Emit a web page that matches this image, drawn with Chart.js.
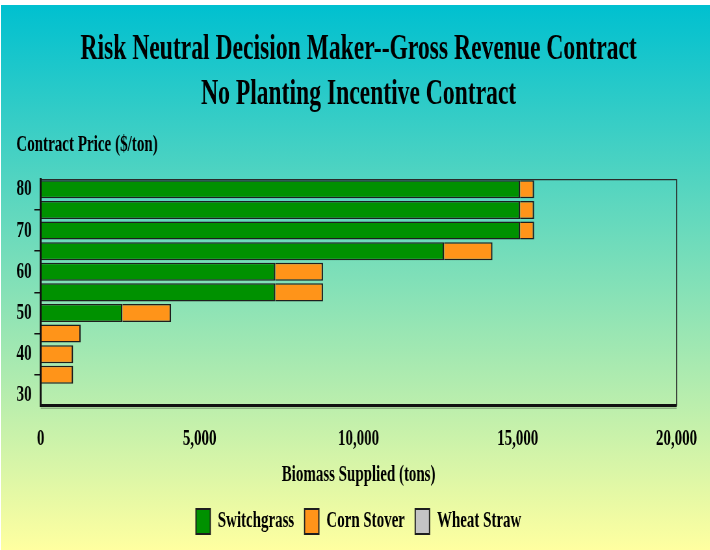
<!DOCTYPE html>
<html>
<head>
<meta charset="utf-8">
<script src="https://cdn.jsdelivr.net/npm/chart.js@4"></script>
<style>
  html, body { margin: 0; padding: 0; background: #fff; width: 710px; height: 550px; overflow: hidden; }
  #bg { position: absolute; left: 1px; top: 5px; right: 0; bottom: 0;
        background: linear-gradient(to bottom, #00c0d0, #ffffa0); }
  /* The chart is drawn on a wider canvas and squeezed horizontally,
     which gives the serif type its narrow, condensed look. */
  #wrap { position: absolute; left: 0; top: 0; width: 1092px; height: 550px;
          transform: scaleX(0.65); transform-origin: 0 0; }
</style>
</head>
<body>
<div id="bg"></div>
<div id="wrap"><canvas id="chart" width="1092" height="550"></canvas></div>
<script>
// Contract price categories ($/ton), top to bottom
const prices = [80, 75, 70, 65, 60, 55, 50, 45, 40, 35, 30];

// Biomass supplied (tons) per feedstock at each price
const switchgrass = [15080, 15080, 15080, 12690, 7380, 7380, 2570, 0, 0, 0, 0];
const cornStover  = [440, 440, 440, 1520, 1500, 1500, 1530, 1260, 1020, 1020, 0];
const wheatStraw  = [0, 0, 0, 0, 0, 0, 0, 0, 0, 0, 0];

// Tick values on the quantity axis
const xTicks = [0, 5000, 10000, 15000, 20000];

const SERIF = "'Liberation Serif', 'Times New Roman', serif";
const INK = '#000';

// Thin frame along the top and right edges of the plot area
const plotFrame = {
  id: 'plotFrame',
  afterDatasetsDraw(chart) {
    const { ctx, chartArea: a } = chart;
    ctx.save();
    ctx.strokeStyle = '#2a2a2a';
    ctx.lineWidth = 1.2;
    ctx.beginPath();
    ctx.moveTo(a.left, a.top + 0.5);
    ctx.lineTo(a.right, a.top + 0.5);
    ctx.stroke();
    ctx.lineWidth = 1.6;
    ctx.beginPath();
    ctx.moveTo(a.right, a.top);
    ctx.lineTo(a.right, a.bottom);
    ctx.stroke();
    // soft shadow under the base axis
    ctx.strokeStyle = 'rgba(0,0,0,0.25)';
    ctx.lineWidth = 1.5;
    ctx.beginPath();
    ctx.moveTo(a.left, a.bottom + 2.5);
    ctx.lineTo(a.right, a.bottom + 2.5);
    ctx.stroke();
    ctx.restore();
  }
};

const barBorder = { left: 2.3, right: 2.3, top: 1.5, bottom: 1.5 };

new Chart(document.getElementById('chart'), {
  type: 'bar',
  data: {
    labels: prices.map(String),
    datasets: [
      { label: 'Switchgrass', data: switchgrass, backgroundColor: '#009100',
        borderColor: '#1e1e1e', borderWidth: barBorder },
      { label: 'Corn Stover', data: cornStover, backgroundColor: '#ff9419',
        borderColor: '#1e1e1e', borderWidth: barBorder },
      { label: 'Wheat Straw', data: wheatStraw, backgroundColor: '#c4c4c4',
        borderColor: '#1e1e1e', borderWidth: barBorder }
    ]
  },
  options: {
    indexAxis: 'y',
    responsive: false,
    animation: false,
    devicePixelRatio: 1,
    layout: { padding: { left: 25, right: 51, top: 0, bottom: 6 } },
    datasets: { bar: { categoryPercentage: 1, barPercentage: 0.875 } },
    scales: {
      x: {
        type: 'linear',
        stacked: true,
        min: 0,
        max: 20000,
        afterBuildTicks: s => { s.ticks = xTicks.map(v => ({ value: v })); },
        grid: { display: true, drawOnChartArea: false, drawTicks: false },
        border: { display: true, color: '#111', width: 3, z: 1 },
        ticks: {
          padding: 19.5,
          color: INK,
          font: { family: SERIF, size: 23, weight: 'bold' },
          callback: v => Number(v).toLocaleString('en-US')
        },
        title: {
          display: true,
          text: 'Biomass Supplied (tons)',
          color: INK,
          font: { family: SERIF, size: 23, weight: 'bold' },
          padding: { top: -11.2, bottom: 4.3 }
        }
      },
      y: {
        stacked: true,
        afterFit: s => { s.width = 37.6; },
        grid: { display: true, drawOnChartArea: false, drawTicks: true,
                tickLength: 9.8, color: '#111', lineWidth: 1.5 },
        border: { display: true, color: '#111', width: 3, z: 1 },
        ticks: {
          padding: 4,
          color: INK,
          font: { family: SERIF, size: 23.5, weight: 'bold' },
          callback: (v, i) => (prices[i] % 10 === 0 ? String(prices[i]) : '')
        }
      }
    },
    plugins: {
      title: {
        display: true,
        fullSize: false,
        text: ['Risk Neutral Decision Maker--Gross Revenue Contract',
               'No Planting Incentive Contract'],
        color: INK,
        font: { family: SERIF, size: 36.3, weight: 'bold', lineHeight: 1.226 },
        padding: { top: 27.5, bottom: 0 }
      },
      subtitle: {
        display: true,
        align: 'start',
        text: 'Contract Price ($/ton)',
        color: INK,
        font: { family: SERIF, size: 23.2, weight: 'bold', lineHeight: 1.2 },
        padding: { top: 15, bottom: 19.7 }
      },
      legend: {
        display: true,
        position: 'bottom',
        fullSize: false,
        labels: {
          boxWidth: 22,
          boxHeight: 25,
          padding: 16,
          color: INK,
          font: { family: SERIF, size: 23, weight: 'bold' }
        }
      },
      tooltip: { enabled: false }
    }
  },
  plugins: [plotFrame]
});
</script>
</body>
</html>
